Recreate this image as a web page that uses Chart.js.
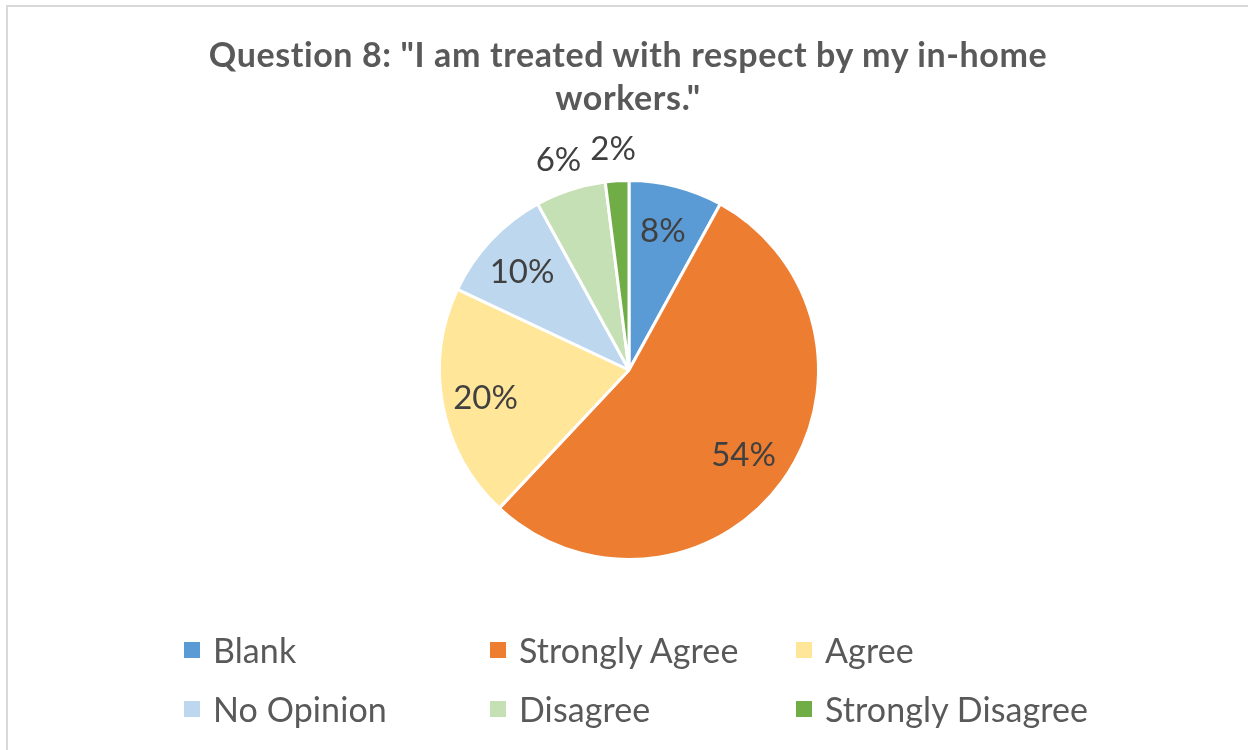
<!DOCTYPE html>
<html>
<head>
<meta charset="utf-8">
<script src="https://cdn.jsdelivr.net/npm/chart.js@4.4.1/dist/chart.umd.min.js"></script>
<style>
    html, body { margin: 0; padding: 0; background: #fff; }
    #wrap { position: relative; width: 1248px; height: 750px; overflow: hidden; }
    #frame {
        position: absolute; left: 6px; top: 5px; width: 1260px; height: 760px;
        border-left: 2px solid #d9d9d9; border-top: 2px solid #d9d9d9; box-sizing: border-box;
    }
    #pie { position: absolute; left: 0; top: 0; }
    #title {
        position: absolute; left: 0; top: 32px; width: 1256px; text-align: center;
        font-family: Lato, sans-serif; font-weight: bold; font-size: 34px; line-height: 43px;
        letter-spacing: 0.6px; color: #595959;
    }
    .legend-item {
        position: absolute; display: flex; align-items: center; height: 40px;
        font-family: Lato, sans-serif; font-size: 34px; line-height: 40px; letter-spacing: 0.1px;
        color: #595959; white-space: nowrap;
    }
    .legend-item span.box { width: 16px; height: 16px; margin-right: 13px; display: inline-block; }
</style>
</head>
<body>
<div id="wrap">
    <div id="frame"></div>
    <canvas id="pie" width="1248" height="750"></canvas>
    <div id="title">Question 8: "I am treated with respect by my in-home<br>workers."</div>
    <div id="legend"></div>
</div>
<script>
const labels = ["Blank", "Strongly Agree", "Agree", "No Opinion", "Disagree", "Strongly Disagree"];
const values = [8, 54, 20, 10, 6, 2];
const colors = ["#5b9bd5", "#ed7d31", "#ffe699", "#bdd7ee", "#c5e0b4", "#70ad47"];

// percent labels: inside for big slices, just outside for the thin ones
const pctLabels = {
    id: "pctLabels",
    afterDatasetsDraw(chart) {
        const ctx = chart.ctx;
        const meta = chart.getDatasetMeta(0);
        ctx.save();
        ctx.font = "33px Lato, sans-serif";
        ctx.fillStyle = "#404040";
        ctx.textAlign = "center";
        ctx.textBaseline = "middle";
        meta.data.forEach((arc, i) => {
            const { x, y, startAngle, endAngle, outerRadius } = arc.getProps(["x", "y", "startAngle", "endAngle", "outerRadius"], true);
            const mid = (startAngle + endAngle) / 2;
            const r = values[i] < 7 ? outerRadius * 1.17 : outerRadius * 0.76;
            ctx.fillText(values[i] + "%", x + Math.cos(mid) * r - 2, y + Math.sin(mid) * r + 1);
        });
        ctx.restore();
    },
};

new Chart(document.getElementById("pie"), {
    type: "pie",
    data: {
        labels: labels,
        datasets: [
            {
                data: values,
                backgroundColor: colors,
                borderColor: "#ffffff",
                borderWidth: 3,
            },
        ],
    },
    options: {
        responsive: false,
        animation: false,
        layout: { padding: { left: 438, right: 428, top: 179, bottom: 189 } },
        plugins: { legend: { display: false }, tooltip: { enabled: false } },
    },
    plugins: [pctLabels],
});

const legend = document.getElementById("legend");
labels.forEach((label, i) => {
    const item = document.createElement("div");
    item.className = "legend-item";
    item.style.left = 184 + (i % 3) * 306 + "px";
    item.style.top = (i < 3 ? 630 : 689) + "px";
    const box = document.createElement("span");
    box.className = "box";
    box.style.background = colors[i];
    item.appendChild(box);
    item.appendChild(document.createTextNode(label));
    legend.appendChild(item);
});
</script>
</body>
</html>
